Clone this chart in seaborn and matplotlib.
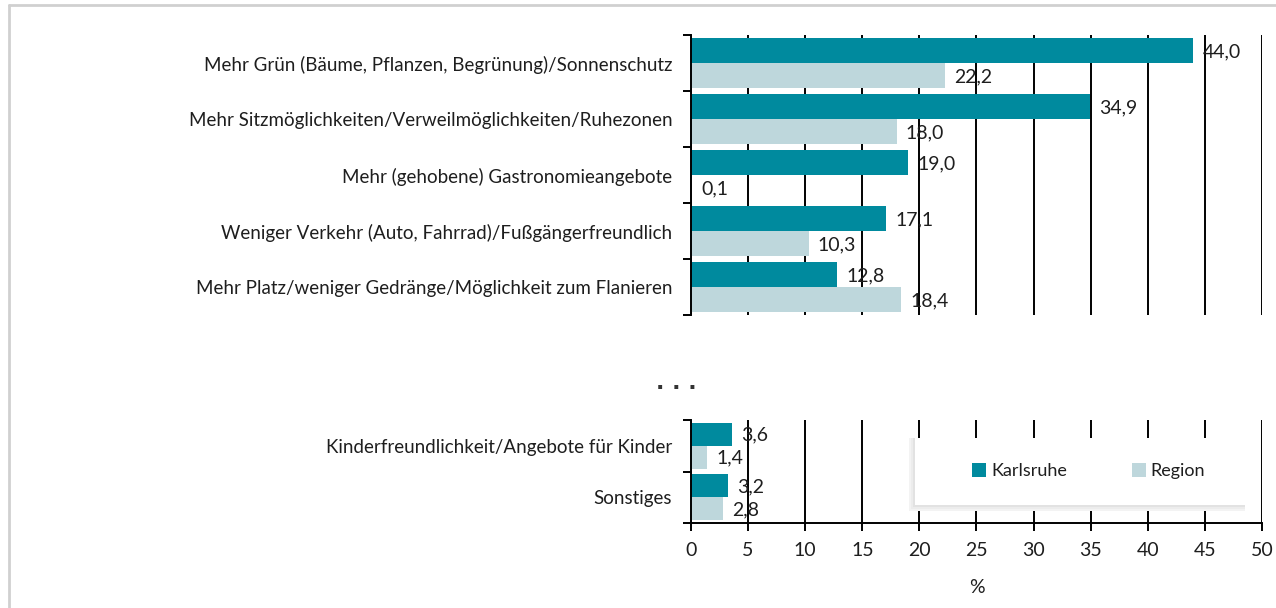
import matplotlib
matplotlib.use("Agg")
import matplotlib.pyplot as plt
import seaborn as sns
import pandas as pd
from matplotlib.patches import Rectangle, Patch
from matplotlib.lines import Line2D

# Daten (Werte in %)
categories_top = [
    "Mehr Grün (Bäume, Pflanzen, Begrünung)/Sonnenschutz",
    "Mehr Sitzmöglichkeiten/Verweilmöglichkeiten/Ruhezonen",
    "Mehr (gehobene) Gastronomieangebote",
    "Weniger Verkehr (Auto, Fahrrad)/Fußgängerfreundlich",
    "Mehr Platz/weniger Gedränge/Möglichkeit zum Flanieren",
]
karlsruhe_top = [44.0, 34.9, 19.0, 17.1, 12.8]
region_top = [22.2, 18.0, 0.1, 10.3, 18.4]

categories_bottom = [
    "Kinderfreundlichkeit/Angebote für Kinder",
    "Sonstiges",
]
karlsruhe_bottom = [3.6, 3.2]
region_bottom = [1.4, 2.8]

series = ["Karlsruhe", "Region"]
colors = {"Karlsruhe": "#008A9E", "Region": "#BED7DC"}
x_ticks = list(range(0, 55, 5))

sns.set_theme(style="white")
plt.rcParams["font.family"] = ["Lato", "DejaVu Sans"]
plt.rcParams["text.color"] = "#1E1E1E"


def long_frame(cats, k_vals, r_vals):
    rows = []
    for c, k, r in zip(cats, k_vals, r_vals):
        rows.append({"Kategorie": c, "Gruppe": "Karlsruhe", "Wert": k})
        rows.append({"Kategorie": c, "Gruppe": "Region", "Wert": r})
    return pd.DataFrame(rows)


def draw_panel(ax, cats, k_vals, r_vals, ylim):
    df = long_frame(cats, k_vals, r_vals)
    sns.barplot(data=df, y="Kategorie", x="Wert", hue="Gruppe", orient="h",
                hue_order=series, palette=colors, width=0.9, linewidth=0,
                saturation=1, legend=False, ax=ax)
    ax.set_xlim(0, 50)
    ax.set_ylim(*ylim)
    ax.set_xticks(x_ticks)
    ax.grid(axis="x", color="black", linewidth=1.4)
    ax.grid(axis="y", visible=False)
    ax.set_axisbelow(True)
    for s in ["top", "right"]:
        ax.spines[s].set_visible(False)
    ax.spines["left"].set_color("black")
    ax.spines["left"].set_linewidth(1.4)
    ax.set_ylabel("")
    ax.set_xlabel("")
    # Kategorien-Trennstriche links
    ax.set_yticks([i + 0.5 for i in range(-1, len(cats))], minor=True)
    ax.tick_params(axis="y", which="minor", left=True, length=6, width=1.4,
                   color="black", direction="out")
    ax.tick_params(axis="y", which="major", length=0, pad=13.5, labelsize=13.5,
                   labelcolor="#1E1E1E")
    # Wertebeschriftungen
    for i, (k, r) in enumerate(zip(k_vals, r_vals)):
        for v, off in ((k, -0.225), (r, 0.225)):
            ax.text(v + 0.8, i + off + 0.02, f"{v:.1f}".replace(".", ","),
                    ha="left", va="center", fontsize=14, color="#1E1E1E",
                    clip_on=True)


fig = plt.figure(figsize=(12.76, 6.08), dpi=100)
ax_top = fig.add_axes([691 / 1276, 1 - 315 / 608, 571 / 1276, 280 / 608])
ax_bot = fig.add_axes([691 / 1276, 1 - 523 / 608, 571 / 1276, 103 / 608])

draw_panel(ax_top, categories_top, karlsruhe_top, region_top, (4.5, -0.5))
draw_panel(ax_bot, categories_bottom, karlsruhe_bottom, region_bottom, (1.5, -0.34))

ax_top.spines["bottom"].set_visible(False)
ax_top.tick_params(axis="x", bottom=False, labelbottom=False)

ax_bot.spines["bottom"].set_color("black")
ax_bot.spines["bottom"].set_linewidth(1.4)
ax_bot.tick_params(axis="x", bottom=True, length=6, width=1.4, color="black",
                   pad=8, labelsize=14, labelcolor="#1E1E1E")
ax_bot.set_xlabel("%", fontsize=14, labelpad=14, color="#1E1E1E")

# Auslassungszeichen zwischen den Teilen
fig.text(676 / 1276, 1 - 389 / 608, ". . .", ha="center", va="baseline",
         fontsize=16, fontweight="bold", color="#333333",
         family="DejaVu Sans")

# Legende mit weichem Schatten
lx0, ly0, lw, lh = 915, 438, 330, 67
for d, c in ((6, "#F3F3F3"), (4, "#ECECEC"), (2, "#E2E2E2")):
    fig.add_artist(Rectangle(((lx0 - d) / 1276, 1 - (ly0 + lh + d) / 608),
                             (lw + d) / 1276, (lh + d) / 608,
                             transform=fig.transFigure, facecolor=c,
                             edgecolor="none", zorder=3))
fig.add_artist(Rectangle((lx0 / 1276, 1 - (ly0 + lh) / 608),
                         lw / 1276, lh / 608,
                         transform=fig.transFigure, facecolor="white",
                         edgecolor="none", zorder=4))
handles = [Patch(facecolor=colors[s], edgecolor="none", label=s) for s in series]
fig.legend(handles=handles, loc="center left",
           bbox_to_anchor=(972 / 1276, 1 - 471 / 608), ncol=2, frameon=False,
           handlelength=0.8, handleheight=0.8, handletextpad=0.25,
           columnspacing=3.6, fontsize=13, borderaxespad=0, borderpad=0)

# grauer Rahmen oben/links
fig.add_artist(Line2D([9 / 1276, 1], [1 - 5 / 608, 1 - 5 / 608],
                      transform=fig.transFigure, color="#D0D0D0", linewidth=2))
fig.add_artist(Line2D([9 / 1276, 9 / 1276], [0, 1 - 5 / 608],
                      transform=fig.transFigure, color="#D0D0D0", linewidth=2))

fig.savefig("out.png", dpi=100)
